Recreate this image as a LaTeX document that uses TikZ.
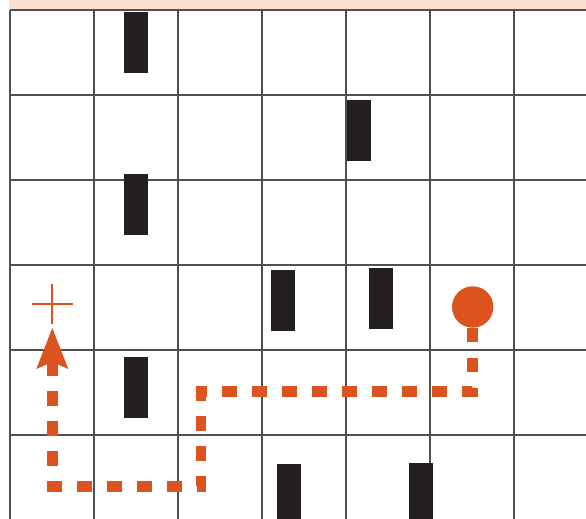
\documentclass[tikz,border=0pt]{standalone}
\usepackage{tikz}
\usetikzlibrary{positioning, arrows.meta}
\definecolor{gridorange}{HTML}{DC5320}
\definecolor{gridpeach}{HTML}{FBE1D1}
\definecolor{gridline}{HTML}{505052}
\definecolor{gridwall}{HTML}{231F20}

\begin{document}
\begin{tikzpicture}[
    x=1pt, y=-1pt,
    cellline/.style={draw=gridline, line width=1.8pt},
    wall/.style={fill=gridwall},
    route/.style={draw=gridorange, line width=10.5pt, dash pattern=on 14.5pt off 15.5pt,
      -{Stealth[length=41pt, width=32pt, inset=7pt, line width=0pt]}},
    goal/.style={circle, fill=gridorange, minimum size=41.4pt, inner sep=0pt},
    startmark/.style={draw=gridorange, line width=2.3pt},
  ]
  \clip (0,0) rectangle (586,519);

  % ----- header strip -----
  \fill[gridpeach] (9,0.5) rectangle (586,8.8);

  % ----- grid -----
  \foreach \gx in {10,94,178,262,346,430,514}
    \draw[cellline] (\gx,10) -- (\gx,525);
  \foreach \gy in {10,95,180,265,350,435}
    \draw[cellline] (10,\gy) -- (590,\gy);

  % ----- walls (top-left corners) -----
  \foreach \wx/\wy in {124/12, 347/100, 124/174, 271/270, 369/268,
                       124/357, 277/464, 409/463}
    \fill[wall] (\wx,\wy) rectangle ++(24,61);

  % ----- start and goal -----
  \coordinate (start) at (52.3,304.3);
  \draw[startmark] (start) +(-20.5,0) -- +(20.5,0);
  \draw[startmark] (start) +(0,-20.3) -- +(0,19.7);
  \node[goal] (goal) at (472.7,307) {};

  % ----- route -----
  \coordinate (turnA) at (201,391.7);
  \coordinate (turnB) at (52.3,486.7);
  \coordinate (tip) at (52.3,328);
  \draw[route] (goal.south) |- (turnA) |- (turnB) -- (tip);

\end{tikzpicture}
\end{document}
